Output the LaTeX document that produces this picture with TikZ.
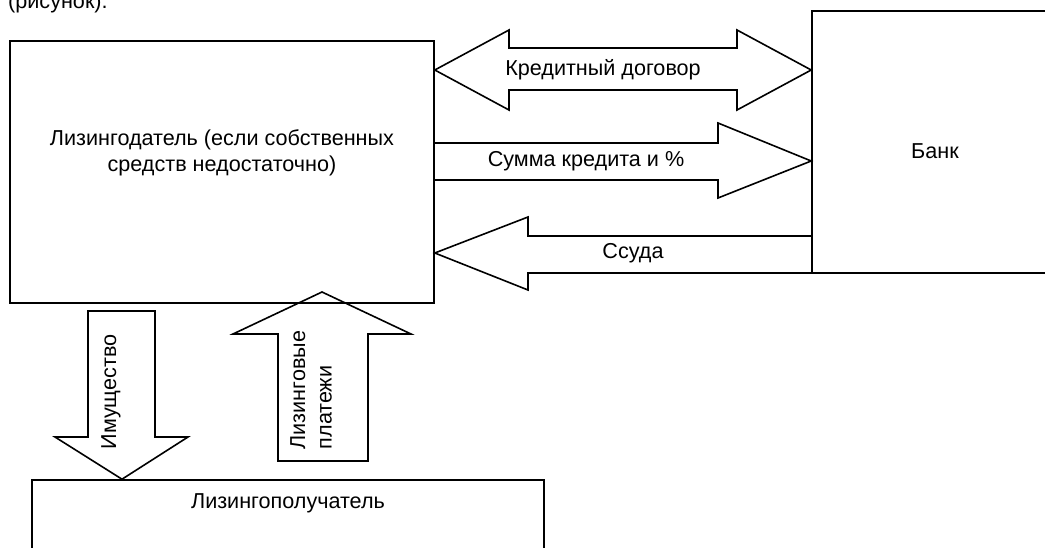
\documentclass[tikz,border=0pt]{standalone}
\usepackage{fontspec}
\setmainfont{Liberation Sans}
\usepackage{tikz}
\usetikzlibrary{positioning,calc}
\tikzset{
  box/.style={draw=black,line width=1.6pt,fill=none,inner sep=0pt},
  flow/.style={draw=black,line width=1.6pt,line join=miter},
  lab/.style={inner sep=0pt,font=\fontsize{21.6}{26.5}\selectfont,align=center},
}

\begin{document}
\begin{tikzpicture}[x=1pt,y=-1pt]
\clip (0,0) rectangle (1045,548);
\node[lab,anchor=base west] (note) at (8,9) {(рисунок).};
\node[box,minimum width=424pt,minimum height=262pt] (lessor) at (222,172) {};
\node[box,minimum width=250pt,minimum height=262pt] (bank) at (937,142) {};
\node[box,minimum width=512pt,minimum height=200pt] (lessee) at (288,580) {};
\node[lab] (lessortxt) at (222,153) {Лизингодатель (если собственных\\средств недостаточно)};
\node[lab] (banktxt) at (935,151) {Банк};
\node[lab] (lesseetxt) at (288,503) {Лизингополучатель};
\coordinate (c1) at (lessor.east |- 0,70);
\coordinate (c2) at (bank.west |- 0,70);
\draw[flow] (c1) -- (509,30) -- (509,48) -- (737,48) -- (737,30) -- (c2)
  -- (737,110) -- (737,90) -- (509,90) -- (509,110) -- cycle;
\node[lab] (credit) at (603,70) {Кредитный договор};
\coordinate (s1) at (lessor.east |- 0,143);
\coordinate (s2) at (lessor.east |- 0,180);
\coordinate (s3) at (bank.west |- 0,161);
\draw[flow] (s1) -- (718,143) -- (718,123) -- (s3) -- (718,198) -- (718,180) -- (s2);
\node[lab] (sum) at (586,161) {Сумма кредита и \%};
\coordinate (l1) at (bank.west |- 0,236);
\coordinate (l2) at (bank.west |- 0,273);
\coordinate (l3) at (lessor.east |- 0,253);
\draw[flow] (l1) -- (528,236) -- (528,217) -- (l3) -- (528,290) -- (528,273) -- (l2);
\node[lab] (loan) at (633,253) {Ссуда};
\coordinate (p1) at (lessee.north -| 122,0);
\draw[flow] (88,311) -- (155,311) -- (155,437) -- (188,437) -- (p1)
  -- (55,437) -- (88,437) -- cycle;
\node[lab,rotate=90] (goods) at (111,392) {Имущество};
\coordinate (q1) at (322,292);
\draw[flow] (q1) -- (411,334) -- (368,334) -- (368,461) -- (278,461)
  -- (278,334) -- (233,334) -- cycle;
\node[lab,rotate=90,align=left] (pay) at (311,390) {Лизинговые\\платежи};
\end{tikzpicture}
\end{document}
